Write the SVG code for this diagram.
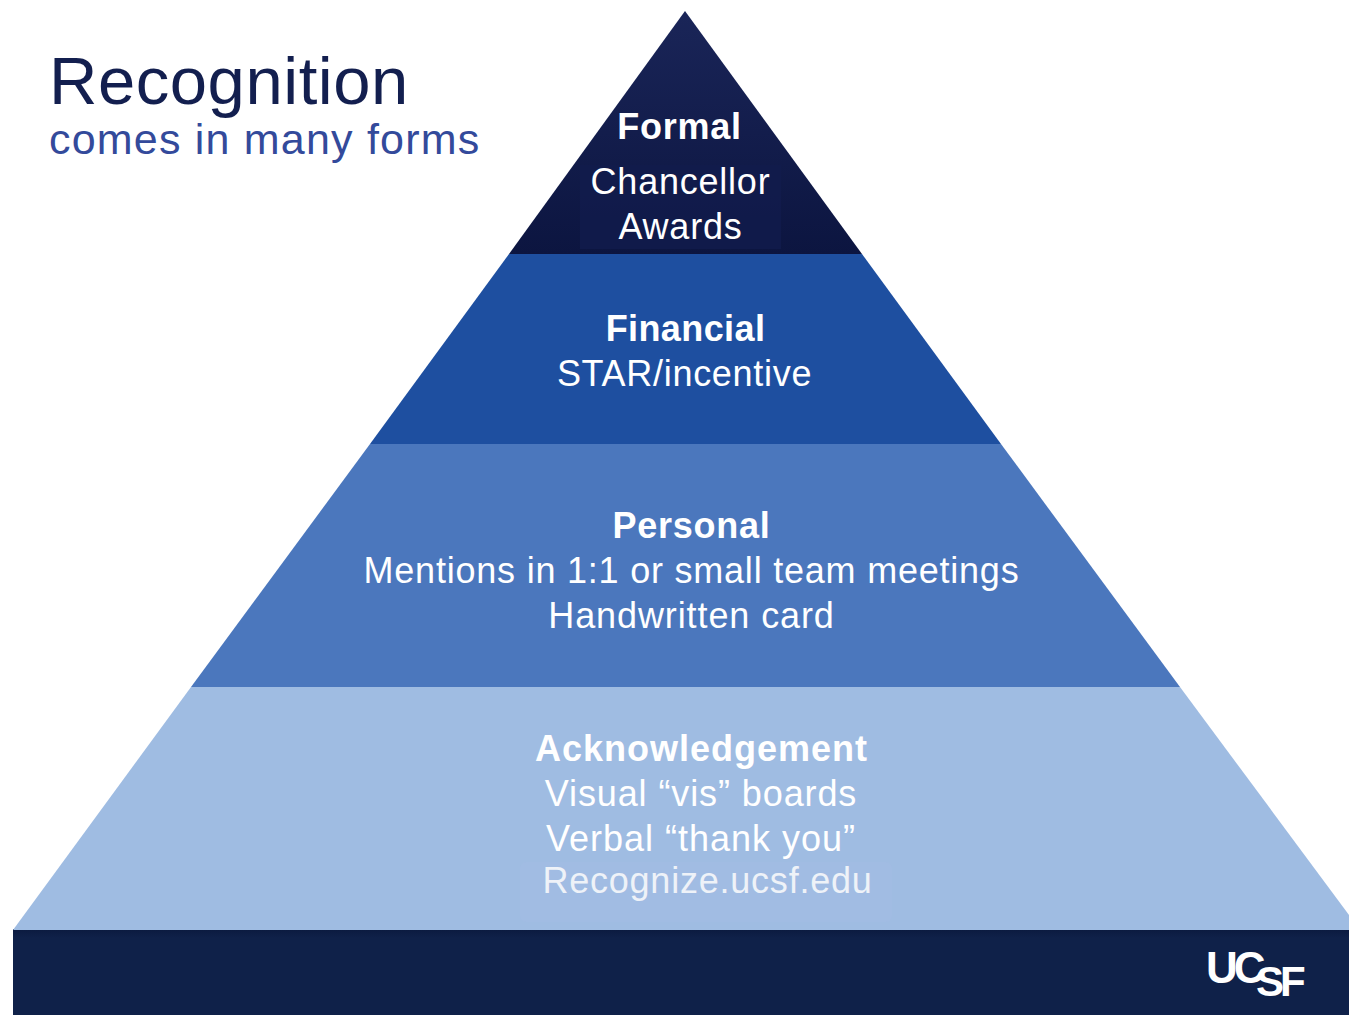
<svg xmlns="http://www.w3.org/2000/svg" width="1349" height="1015" viewBox="0 0 1349 1015">
<style>
text{font-family:"Liberation Sans",Arial,sans-serif;text-anchor:middle;fill:#fff}
.h{font-weight:700;font-size:36px;letter-spacing:.75px}
.b{font-size:36px;letter-spacing:.78px}
.w{letter-spacing:.9px}
.t{text-anchor:start}
.l{text-anchor:start;font-size:44px;font-weight:700;letter-spacing:-4px}
</style>
<defs>
<linearGradient id="top" x1="0" y1="0" x2="0" y2="1"><stop offset="0" stop-color="#1a2558"/><stop offset="1" stop-color="#0c1540"/></linearGradient>
<linearGradient id="sh" x1="0" y1="0" x2="0" y2="1"><stop offset="0" stop-color="#0b1a3f"/><stop offset="1" stop-color="#0f2149"/></linearGradient>
</defs>
<rect width="1349" height="1015" fill="#fff"/>
<g id="title">
<text class="t" x="49" y="104" font-size="67" style="fill:#131f4f;letter-spacing:.55px">Recognition</text>
<text class="t" x="49" y="154" font-size="43" style="fill:#334a9b;letter-spacing:1.2px">comes in many forms</text>
</g>
<g id="footer">
<rect x="13" y="929" width="1336" height="86" fill="#0f2149"/>
<rect x="13" y="929" width="1336" height="9" fill="url(#sh)"/>
<g id="ucsf-logo">
<text class="l" x="1206" y="983">UC</text>
<text class="l" x="1256" y="996" style="font-size:42px">SF</text>
</g>
</g>
<g id="level-formal">
<polygon points="685,11 862,254 509,254" fill="url(#top)"/>
<rect x="580" y="165" width="201" height="84" fill="#111b4c" opacity=".8"/>
<text class="h" x="679.500" y="139">Formal</text>
<text class="b" x="680.500" y="194">Chancellor</text>
<text class="b" x="680.500" y="239">Awards</text>
</g>
<g id="level-financial">
<polygon points="509,254 862,254 1001,444 370,444" fill="#1e4fa0"/>
<text class="h" x="685.500" y="341" style="letter-spacing:.4px">Financial</text>
<text class="b" x="684.500" y="386" style="letter-spacing:.7px">STAR/incentive</text>
</g>
<g id="level-personal">
<polygon points="370,444 1001,444 1180,687 191,687" fill="#4b77bd"/>
<text class="h" x="691.500" y="538">Personal</text>
<text class="b" x="691.500" y="583">Mentions in 1:1 or small team meetings</text>
<text class="b w" x="691.500" y="628">Handwritten card</text>
</g>
<g id="level-acknowledgement">
<polygon points="191,687 1180,687 1349,915 1349,930 13,930" fill="#9fbce2"/>
<rect x="520" y="862" width="372" height="60" rx="6" fill="#a1bce3"/>
<text class="h" x="701.500" y="761" style="letter-spacing:1px">Acknowledgement</text>
<text class="b w" x="701" y="806">Visual “vis” boards</text>
<text class="b" x="701" y="851" style="letter-spacing:1px">Verbal “thank you”</text>
<text class="b" x="707.500" y="893" style="fill:#eef2f8">Recognize.ucsf.edu</text>
</g>
</svg>
